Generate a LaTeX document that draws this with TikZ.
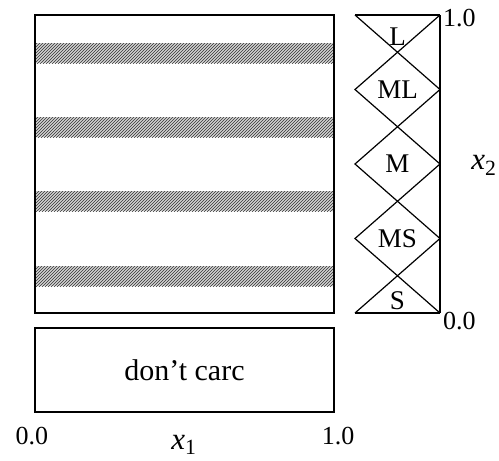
\documentclass[tikz,border=0pt]{standalone}
\usepackage{fontspec}
\setmainfont{Liberation Serif}
\usetikzlibrary{patterns}

\tikzset{
    stripe/.style={pattern=north east lines, pattern color=black!80, draw=none},
    mf/.style={line width=1.2pt},
    lbl/.style={font=\fontsize{26}{28}\selectfont, inner sep=0pt},
    mflbl/.style={font=\fontsize{27}{29}\selectfont, inner sep=0pt},
    axlbl/.style={font=\fontsize{31}{33}\selectfont, inner sep=0pt},
}

\begin{document}
\begin{tikzpicture}[x=1pt, y=-1pt]
    \useasboundingbox (0,0) rectangle (499,461);

    % input space (left)
    \fill[gray!35] (36,43) rectangle (333,63);
    \fill[stripe] (36,43) rectangle (333,63);
    \fill[gray!35] (36,117) rectangle (333,137);
    \fill[stripe] (36,117) rectangle (333,137);
    \fill[gray!35] (36,191) rectangle (333,211);
    \fill[stripe] (36,191) rectangle (333,211);
    \fill[gray!35] (36,266) rectangle (333,286);
    \fill[stripe] (36,266) rectangle (333,286);
    \draw[line width=1.8pt] (35,15) rectangle (334,313);

    % don't care box
    \node[draw, line width=1.2pt, minimum width=299pt, minimum height=84pt,
        inner sep=0pt, font=\fontsize{30}{32}\selectfont] (care) at (184.5,370) {don't carc};
    \node[lbl] (xzero) at (32,436) {0.0};
    \node[lbl] (xone) at (338,436) {1.0};
    \node[axlbl] (xlab) at (184,445) {\textit{x}\textsubscript{1}};

    % membership functions of x2 (right)
    \draw[mf] (355,15) -- (440,15);
    \draw[mf] (355,313) -- (440,313);
    \draw[line width=1.6pt] (440,15) -- (440,313);
    \draw[mf] (355,15) -- (440,89.5) -- (355,164) -- (440,238.5) -- (355,313);
    \draw[mf] (440,15) -- (355,89.5) -- (440,164) -- (355,238.5) -- (440,313);

    \node[mflbl] (large) at (397.5,37) {L};
    \node[mflbl] (mlarge) at (397.5,90) {ML};
    \node[mflbl] (medium) at (397.5,164) {M};
    \node[mflbl] (msmall) at (397.5,238.5) {MS};
    \node[mflbl] (small) at (397.5,301) {S};

    \node[lbl, anchor=west] (yone) at (443,18) {1.0};
    \node[lbl, anchor=west] (yzero) at (443,321) {0.0};
    \node[axlbl] (ylab) at (484,165) {\textit{x}\textsubscript{2}};
\end{tikzpicture}
\end{document}
